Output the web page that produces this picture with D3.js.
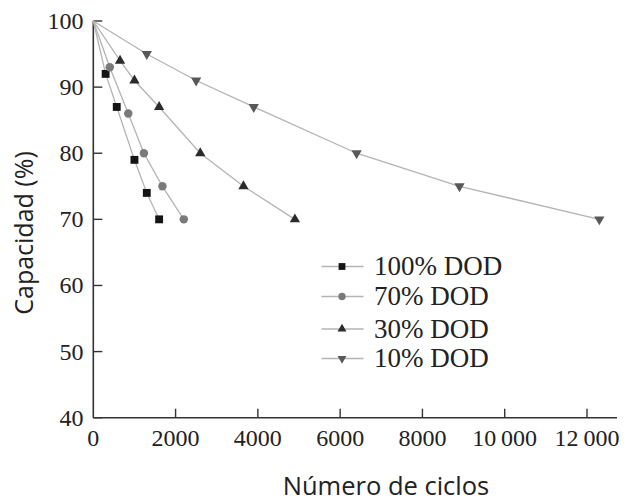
<!DOCTYPE html>
<html>
<head>
<meta charset="utf-8">
<script src="https://cdn.jsdelivr.net/npm/d3@7"></script>
<style>
  html, body { margin: 0; padding: 0; background: #fff; }
  svg { display: block; }
</style>
</head>
<body>
<svg id="chart" width="626" height="502"></svg>
<script>
// Capacity fade vs. cycle count for several depths of discharge
const seriesNames = ["100% DOD", "70% DOD", "30% DOD", "10% DOD"];

const cycles100 = [0, 300, 570, 1000, 1300, 1600];
const capacity100 = [100, 92, 87, 79, 74, 70];

const cycles70 = [0, 400, 850, 1230, 1680, 2200];
const capacity70 = [100, 93, 86, 80, 75, 70];

const cycles30 = [0, 650, 1000, 1600, 2600, 3650, 4900];
const capacity30 = [100, 94, 91, 87, 80, 75, 70];

const cycles10 = [0, 1300, 2500, 3900, 6400, 8900, 12300];
const capacity10 = [100, 95, 91, 87, 80, 75, 70];

const xTicks = [2000, 4000, 6000, 8000, 10000, 12000];
const xTickLabels = ["0", "2000", "4000", "6000", "8000", "10\u2009000", "12\u2009000"];
const yTicks = [40, 50, 60, 70, 80, 90, 100];

const xTitle = "Número de ciclos";
const yTitle = "Capacidad (%)";

const svg = d3.select("#chart");

const x = d3.scaleLinear().domain([0, 12000]).range([93.3, 587]);
const y = d3.scaleLinear().domain([40, 100]).range([417.7, 21]);
const xEnd = 617;

const serif = "'Liberation Serif', 'Times New Roman', serif";
const sans = "'Open Sans', 'Noto Sans', sans-serif";

// marker styles per series
const styles = [
  { symbol: d3.symbolSquare, size: 62, rot: 0, fill: "#141414" },
  { symbol: d3.symbolCircle, size: 56, rot: 0, fill: "#7a7a7a" },
  { symbol: d3.symbolTriangle, size: 46, rot: 0, fill: "#2b2b2b" },
  { symbol: d3.symbolTriangle, size: 46, rot: 180, fill: "#585858" }
];

const seriesData = [
  cycles100.map((c, i) => [c, capacity100[i]]),
  cycles70.map((c, i) => [c, capacity70[i]]),
  cycles30.map((c, i) => [c, capacity30[i]]),
  cycles10.map((c, i) => [c, capacity10[i]])
];

// axes
const axisG = svg.append("g");
axisG.append("line")
  .attr("x1", x(0)).attr("x2", x(0))
  .attr("y1", y(100)).attr("y2", y(40))
  .attr("stroke", "#333").attr("stroke-width", 1.6);
axisG.append("line")
  .attr("x1", x(0)).attr("x2", xEnd)
  .attr("y1", y(40)).attr("y2", y(40))
  .attr("stroke", "#333").attr("stroke-width", 1.6);

// y ticks (pointing inward) and labels
yTicks.forEach(v => {
  axisG.append("line")
    .attr("x1", x(0)).attr("x2", x(0) + 9)
    .attr("y1", y(v)).attr("y2", y(v))
    .attr("stroke", "#333").attr("stroke-width", 1.4);
  axisG.append("text")
    .attr("x", 83.5).attr("y", y(v) + 8)
    .attr("text-anchor", "end")
    .attr("font-family", serif).attr("font-size", 24)
    .attr("fill", "#222")
    .text(v);
});

// x ticks (pointing inward) and labels
xTicks.forEach(v => {
  axisG.append("line")
    .attr("x1", x(v)).attr("x2", x(v))
    .attr("y1", y(40)).attr("y2", y(40) - 9)
    .attr("stroke", "#333").attr("stroke-width", 1.4);
});
[0].concat(xTicks).forEach((v, i) => {
  axisG.append("text")
    .attr("x", x(v)).attr("y", 446)
    .attr("text-anchor", "middle")
    .attr("font-family", serif).attr("font-size", 24)
    .attr("fill", "#222")
    .text(xTickLabels[i]);
});

// axis titles
svg.append("text")
  .attr("x", 386).attr("y", 495)
  .attr("text-anchor", "middle")
  .attr("font-family", sans).attr("font-size", 25.5)
  .attr("fill", "#222")
  .text(xTitle);

svg.append("text")
  .attr("transform", "translate(33,233) rotate(-90)")
  .attr("text-anchor", "middle")
  .attr("font-family", sans).attr("font-size", 25)
  .attr("fill", "#222")
  .text(yTitle);

// series lines
const line = d3.line().x(d => x(d[0])).y(d => y(d[1]));
const plot = svg.append("g");
seriesData.forEach(data => {
  plot.append("path")
    .attr("d", line(data))
    .attr("fill", "none")
    .attr("stroke", "#b4b4b4")
    .attr("stroke-width", 1.3);
});

// series markers (skip the shared starting point at 0 cycles)
seriesData.forEach((data, si) => {
  const st = styles[si];
  const sym = d3.symbol().type(st.symbol).size(st.size);
  plot.selectAll(null)
    .data(data.slice(1))
    .join("path")
    .attr("d", sym)
    .attr("transform", d => `translate(${x(d[0])},${y(d[1])}) rotate(${st.rot})`)
    .attr("fill", st.fill);
});

// legend
const legendRows = [266.5, 296.5, 329, 358.5];
const legend = svg.append("g");
seriesNames.forEach((name, i) => {
  const st = styles[i];
  const ry = legendRows[i];
  legend.append("line")
    .attr("x1", 321.5).attr("x2", 363.5)
    .attr("y1", ry).attr("y2", ry)
    .attr("stroke", "#b4b4b4").attr("stroke-width", 1.3);
  legend.append("path")
    .attr("d", d3.symbol().type(st.symbol).size(st.size * 0.75)())
    .attr("transform", `translate(342,${ry}) rotate(${st.rot})`)
    .attr("fill", st.fill);
  legend.append("text")
    .attr("x", 374).attr("y", ry + 8.5)
    .attr("font-family", serif).attr("font-size", 27)
    .attr("fill", "#222")
    .text(name);
});
</script>
</body>
</html>
